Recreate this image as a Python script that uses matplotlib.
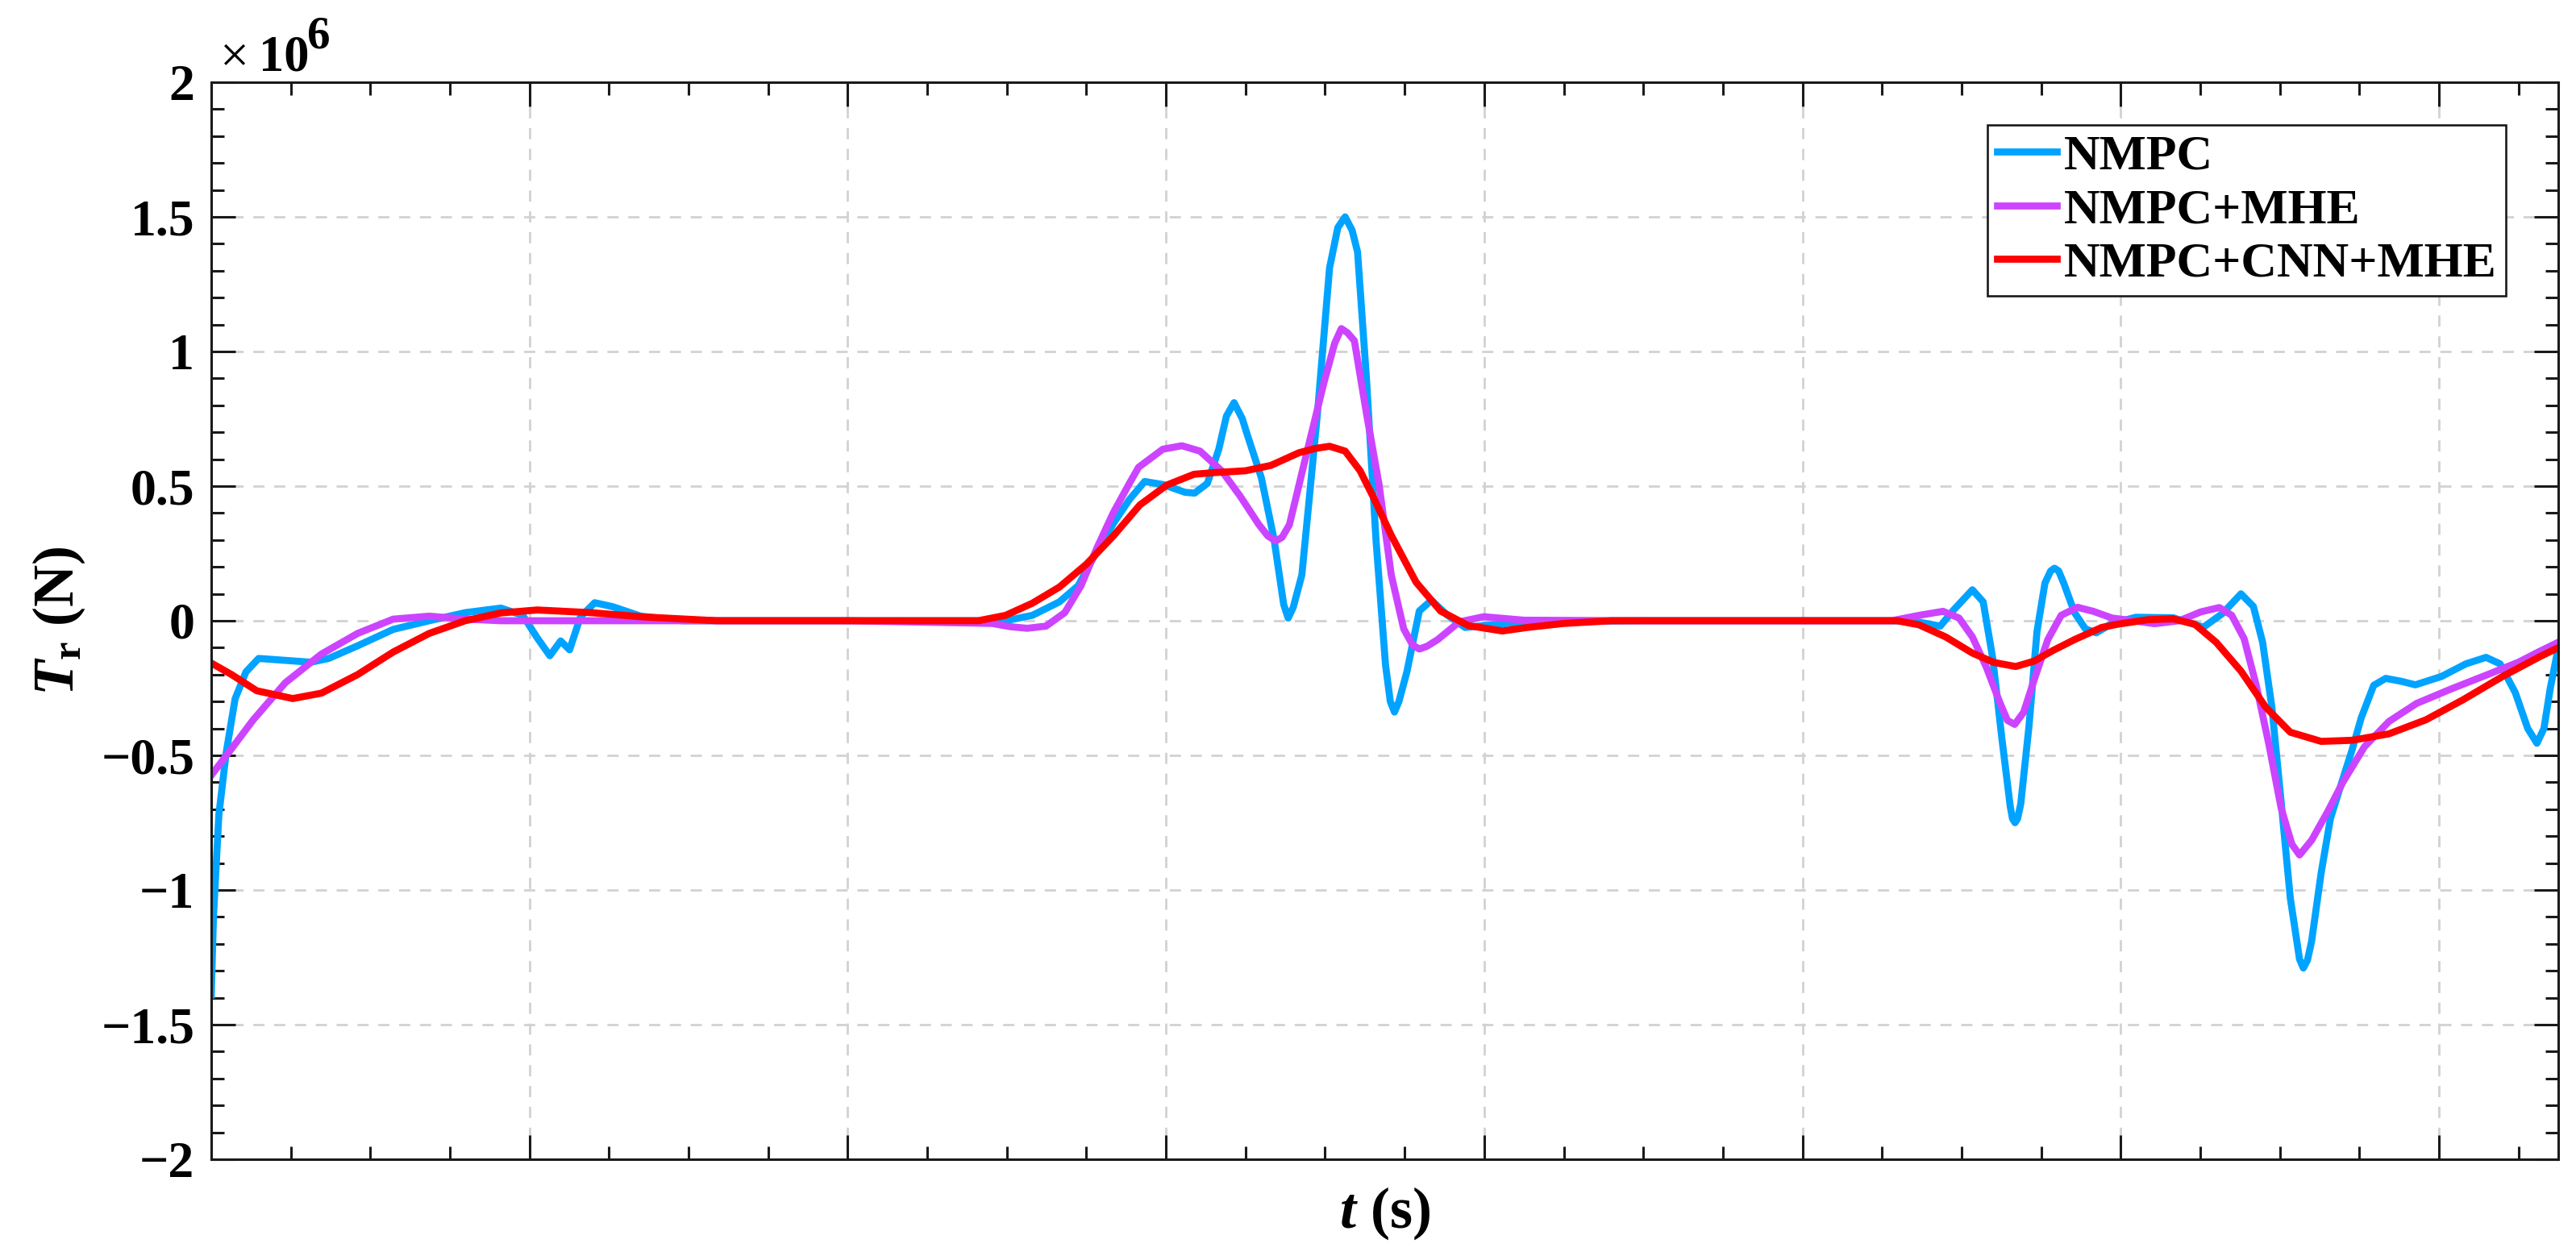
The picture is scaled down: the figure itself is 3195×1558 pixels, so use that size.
import matplotlib
matplotlib.use("Agg")
import matplotlib.pyplot as plt
from matplotlib.ticker import MultipleLocator, FuncFormatter

# values, y in units of 1e6 N
nmpc_t = [0, 0.07, 0.24, 0.47, 0.75, 1.09, 1.49, 2.33, 3.13, 3.69, 4.6, 5.72, 6.85, 7.98, 9.1, 9.79,
          10.24, 10.64, 10.98, 11.26, 11.6, 12.05, 12.62, 13.5, 14.8, 20, 24.1, 24.96, 25.8, 26.65,
          27.24, 27.75, 28.34, 28.85, 29.33, 29.9, 30.6, 30.9, 31.3, 31.66, 31.9, 32.14, 32.4, 32.53,
          33.0, 33.4, 33.7, 33.84, 34.0, 34.27, 34.5, 34.76, 35.14, 35.4, 35.63, 35.85, 36.02, 36.3,
          36.6, 36.9, 37.05, 37.18, 37.32, 37.57, 37.96, 38.34, 38.83, 39.4, 39.99, 41.25, 45, 52.8,
          53.66, 54.33, 54.75, 55.34, 55.68, 55.98, 56.27, 56.53, 56.6, 56.68, 56.76, 56.86, 57.12,
          57.37, 57.62, 57.8, 57.92, 58.05, 58.21, 58.55, 58.89, 59.23, 59.73, 60.48, 61.65, 62.6,
          63.2, 63.78, 64.17, 64.46, 64.75, 65.04, 65.33, 65.62, 65.74, 65.87, 66.0, 66.3, 66.59,
          66.98, 67.27, 67.56, 67.95, 68.33, 68.82, 69.26, 70.08, 70.85, 71.48, 71.92, 72.4, 72.79,
          73.08, 73.3, 73.5, 73.75]
nmpc_y = [-1.39, -1.10, -0.72, -0.49, -0.29, -0.19, -0.14, -0.147, -0.154, -0.14, -0.093, -0.032, 0.0,
          0.03, 0.047, 0.02, -0.063, -0.13, -0.075, -0.108, 0.014, 0.067, 0.052, 0.017, 0.0, 0.0, 0.0,
          0.0, 0.02, 0.07, 0.13, 0.24, 0.36, 0.45, 0.517, 0.506, 0.477, 0.474, 0.51, 0.637, 0.76, 0.81,
          0.75, 0.70, 0.53, 0.30, 0.06, 0.01, 0.05, 0.17, 0.45, 0.77, 1.31, 1.46, 1.50, 1.45, 1.37, 0.90,
          0.30, -0.165, -0.30, -0.339, -0.30, -0.19, 0.036, 0.076, 0.022, -0.025, -0.018, -0.004, 0.0,
          0.0, -0.005, -0.02, 0.04, 0.115, 0.07, -0.14, -0.44, -0.69, -0.735, -0.75, -0.735, -0.68,
          -0.39, -0.04, 0.14, 0.185, 0.195, 0.185, 0.14, 0.03, -0.03, -0.045, -0.01, 0.013, 0.011,
          -0.024, 0.027, 0.1, 0.053, -0.08, -0.32, -0.67, -1.03, -1.257, -1.29, -1.26, -1.19, -0.936,
          -0.735, -0.588, -0.48, -0.36, -0.24, -0.214, -0.225, -0.238, -0.207, -0.16, -0.136, -0.16,
          -0.267, -0.40, -0.455, -0.40, -0.25, -0.10]

mhe_t = [0, 0.64, 1.32, 2.33, 3.46, 4.6, 5.72, 6.85, 7.98, 9.1, 20, 24.54, 25.1, 25.64, 26.23, 26.82,
         27.33, 27.83, 28.34, 28.85, 29.14, 29.9, 30.5, 31.07, 31.75, 32.33, 32.92, 33.2, 33.45, 33.65,
         33.88, 34.37, 34.95, 35.3, 35.51, 35.7, 35.92, 36.3, 36.7, 37.08, 37.47, 37.75, 37.96, 38.2,
         38.54, 39.22, 39.99, 41.25, 45, 52.8, 53.66, 54.42, 54.92, 55.34, 55.77, 56.19, 56.44, 56.67,
         56.95, 57.28, 57.71, 58.13, 58.64, 59.14, 59.73, 60.4, 61.07, 61.84, 62.52, 63.1, 63.49, 63.88,
         64.26, 64.65, 65.04, 65.38, 65.62, 66.0, 66.5, 66.98, 67.66, 68.43, 69.3, 70.37, 71.53, 72.5,
         73.16, 73.75]
mhe_y = [-0.574, -0.475, -0.368, -0.23, -0.124, -0.047, 0.006, 0.017, 0.006, 0.0, 0.0, -0.01, -0.022,
         -0.028, -0.02, 0.03, 0.13, 0.27, 0.40, 0.51, 0.57, 0.637, 0.65, 0.63, 0.557, 0.463, 0.357,
         0.315, 0.296, 0.31, 0.357, 0.597, 0.878, 1.03, 1.085, 1.07, 1.04, 0.77, 0.503, 0.17, -0.03,
         -0.09, -0.105, -0.095, -0.07, -0.004, 0.015, 0.002, 0.0, 0.0, 0.02, 0.035, 0.01, -0.06, -0.17,
         -0.30, -0.37, -0.385, -0.34, -0.22, -0.07, 0.02, 0.05, 0.035, 0.01, 0.0, -0.011, 0.0, 0.033,
         0.049, 0.02, -0.067, -0.24, -0.455, -0.695, -0.83, -0.87, -0.815, -0.71, -0.60, -0.468,
         -0.374, -0.307, -0.254, -0.2, -0.154, -0.114, -0.08]

cnn_t = [0, 0.64, 1.43, 2.56, 3.46, 4.6, 5.72, 6.85, 7.98, 9.1, 10.24, 11.94, 13.6, 15.9, 20, 24.1,
         24.96, 25.8, 26.65, 27.5, 28.34, 29.18, 30.03, 30.88, 31.5, 32.5, 33.3, 34.18, 34.7, 35.14,
         35.63, 36.1, 36.5, 37.08, 37.86, 38.63, 39.5, 40.57, 41.35, 42.5, 44, 52.98, 53.66, 54.5,
         55.34, 56.02, 56.7, 57.28, 57.88, 58.55, 59.4, 59.9, 60.87, 61.65, 62.33, 63.0, 63.78, 64.55,
         65.33, 66.3, 67.27, 68.43, 69.59, 70.75, 72.0, 73.16, 73.75]
cnn_y = [-0.157, -0.2, -0.26, -0.289, -0.269, -0.2, -0.116, -0.047, 0.0, 0.029, 0.04, 0.03, 0.014,
         0.0, 0.0, 0.0, 0.02, 0.065, 0.125, 0.21, 0.314, 0.43, 0.504, 0.544, 0.55, 0.557, 0.577, 0.624,
         0.64, 0.648, 0.63, 0.557, 0.463, 0.317, 0.143, 0.036, -0.018, -0.038, -0.025, -0.01, 0.0, 0.0,
         -0.015, -0.06, -0.12, -0.155, -0.17, -0.15, -0.11, -0.07, -0.025, -0.013, 0.004, 0.007,
         -0.013, -0.08, -0.187, -0.32, -0.414, -0.448, -0.444, -0.42, -0.368, -0.294, -0.207, -0.134, -0.1]

labels = ["NMPC", "NMPC+MHE", "NMPC+CNN+MHE"]
colors = ["#00A3FF", "#CC44FF", "#FF0000"]

plt.rcParams["font.family"] = ["Liberation Serif", "DejaVu Serif"]
plt.rcParams["font.weight"] = "bold"
plt.rcParams["mathtext.fontset"] = "custom"
plt.rcParams["mathtext.it"] = "Liberation Serif:italic:bold"
plt.rcParams["mathtext.bf"] = "Liberation Serif:bold"
plt.rcParams["mathtext.rm"] = "Liberation Serif:bold"

fig = plt.figure(figsize=(31.95, 15.58), dpi=100)
ax = fig.add_axes([262 / 3195, 1 - 1438 / 1558, (3173 - 262) / 3195, (1438 - 102) / 1558])

for t, y, lab, c in zip([nmpc_t, mhe_t, cnn_t], [nmpc_y, mhe_y, cnn_y], labels, colors):
    ax.plot(t, y, color=c, lw=6.3, label=lab, solid_joinstyle="round")

ax.set_xlim(0, 73.75)
ax.set_ylim(-2, 2)
ax.xaxis.set_major_locator(MultipleLocator(10))
ax.xaxis.set_minor_locator(MultipleLocator(2.5))
ax.yaxis.set_major_locator(MultipleLocator(0.5))
ax.yaxis.set_minor_locator(MultipleLocator(0.1))
ax.xaxis.set_major_formatter(FuncFormatter(lambda v, p: ""))
ax.yaxis.set_major_formatter(FuncFormatter(lambda v, p: f"{v:g}".replace("-", "\u2212")))

ax.grid(True, which="major", color="#d2d2d2", lw=2.0, linestyle=(0, (5, 4.3)))
ax.set_axisbelow(True)
for s in ax.spines.values():
    s.set_linewidth(2.2)
    s.set_color("#1a1a1a")
ax.tick_params(which="both", direction="in", top=True, right=True, width=2.2, color="#1a1a1a")
ax.tick_params(which="major", length=21.5, pad=15, labelsize=46)
ax.tick_params(which="minor", length=11.5)

ax.set_xlabel(r"$t$ (s)", fontsize=52, fontweight="bold")
ax.set_ylabel(r"$T_{\mathbf{r}}$ (N)", fontsize=52, fontweight="bold")
ax.xaxis.set_label_coords(0.5, -(1505 - 1438) / 1336)
ax.xaxis.label.set_va("center")
ax.yaxis.set_label_coords(-(262 - 73) / 2911, 0.5)
ax.yaxis.label.set_va("center")

# exponent label as drawn by MATLAB
fig.text(273 / 3195, 1 - 88 / 1558, "\u00d7", fontsize=46, fontweight="normal", va="baseline")
fig.text(321 / 3195, 1 - 88 / 1558, "10", fontsize=45, fontweight="bold", va="baseline")
fig.text(381 / 3195, 1 - 60 / 1558, "6", fontsize=41, fontweight="bold", va="baseline")

leg = ax.legend(loc="upper right", bbox_to_anchor=(3108 / 3195, 1 - 155 / 1558),
                bbox_transform=fig.transFigure, borderaxespad=0, fancybox=False,
                edgecolor="#1a1a1a", framealpha=1, prop={"size": 44.5, "weight": "bold"},
                handlelength=1.2, handletextpad=0.15, borderpad=0.18, labelspacing=0.17)
leg.get_frame().set_linewidth(1.9)

fig.savefig("out.png", dpi=100, facecolor="white")
